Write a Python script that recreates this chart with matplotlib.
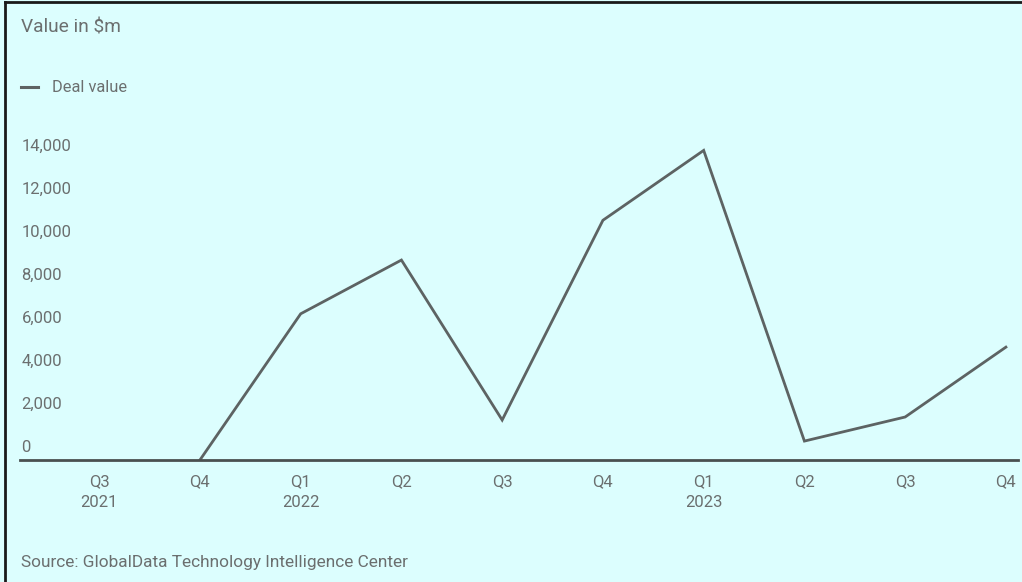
import numpy as np
import matplotlib
matplotlib.use("Agg")
import matplotlib.pyplot as plt
from matplotlib.lines import Line2D

quarters = ["Q3\n2021", "Q4", "Q1\n2022", "Q2", "Q3", "Q4", "Q1\n2023", "Q2", "Q3", "Q4"]
deal_value = [np.nan, 0, 6800, 9300, 1860, 11150, 14400, 880, 2000, 5250]
yticks = [0, 2000, 4000, 6000, 8000, 10000, 12000, 14000]

BG = "#dcfefe"
TXT = "#6b6f6f"
LINE = "#5d6363"
FONT = "Roboto"
FS = 12

W, H = 1022, 582
fig = plt.figure(figsize=(W / 100, H / 100), dpi=100, facecolor=BG)

# axes: baseline from x=20 to 1018 px; y=0 at 460 px, top 137.5 px
x0, x1 = 20, 1018
ytop, ybot = 137.5, 460
ax = fig.add_axes([x0 / W, 1 - ybot / H, (x1 - x0) / W, (ybot - ytop) / H])
ax.set_facecolor(BG)
xs = np.arange(len(quarters))
ax.plot(xs, deal_value, color=LINE, lw=2.0, solid_joinstyle="miter")
ax.set_xlim(-0.786, 9.12)
ax.set_ylim(0, 15000)
for s in ["top", "right", "left"]:
    ax.spines[s].set_visible(False)
ax.spines["bottom"].set_color("#4a5050")
ax.spines["bottom"].set_linewidth(2)
ax.set_yticks([])
ax.set_xticks(xs)
ax.set_xticklabels(quarters, fontfamily=FONT, fontsize=FS, color=TXT, linespacing=1.45)
ax.tick_params(axis="x", length=0, pad=10.5)
for v in yticks:
    ax.annotate(f"{v:,}", xy=(0, v), xycoords=("axes fraction", "data"),
                xytext=(1, 3.5), textcoords="offset points", ha="left", va="bottom",
                fontfamily=FONT, fontsize=FS, color=TXT)

fig.text(21 / W, 1 - 28 / H, "Value in $m", fontfamily=FONT, fontsize=13.8,
         color=TXT, ha="left", va="center")
fig.add_artist(Line2D([21 / W, 38 / W], [1 - 87 / H, 1 - 87 / H], color=LINE, lw=2.2))
fig.text(52 / W, 1 - 87 / H, "Deal value", fontfamily=FONT, fontsize=11.8,
         color=TXT, ha="left", va="center")
fig.text(21 / W, 1 - 562 / H, "Source: GlobalData Technology Intelligence Center",
         fontfamily=FONT, fontsize=12.4, color=TXT, ha="left", va="center")

# frame lines (left and top)
fig.add_artist(Line2D([4.5 / W, 4.5 / W], [0, 1 - 2 / H], color="#1a1a1a", lw=2))
fig.add_artist(Line2D([4.5 / W, 1], [1 - 2 / H, 1 - 2 / H], color="#1a1a1a", lw=2))

fig.savefig("out.png", dpi=100, facecolor=BG)
